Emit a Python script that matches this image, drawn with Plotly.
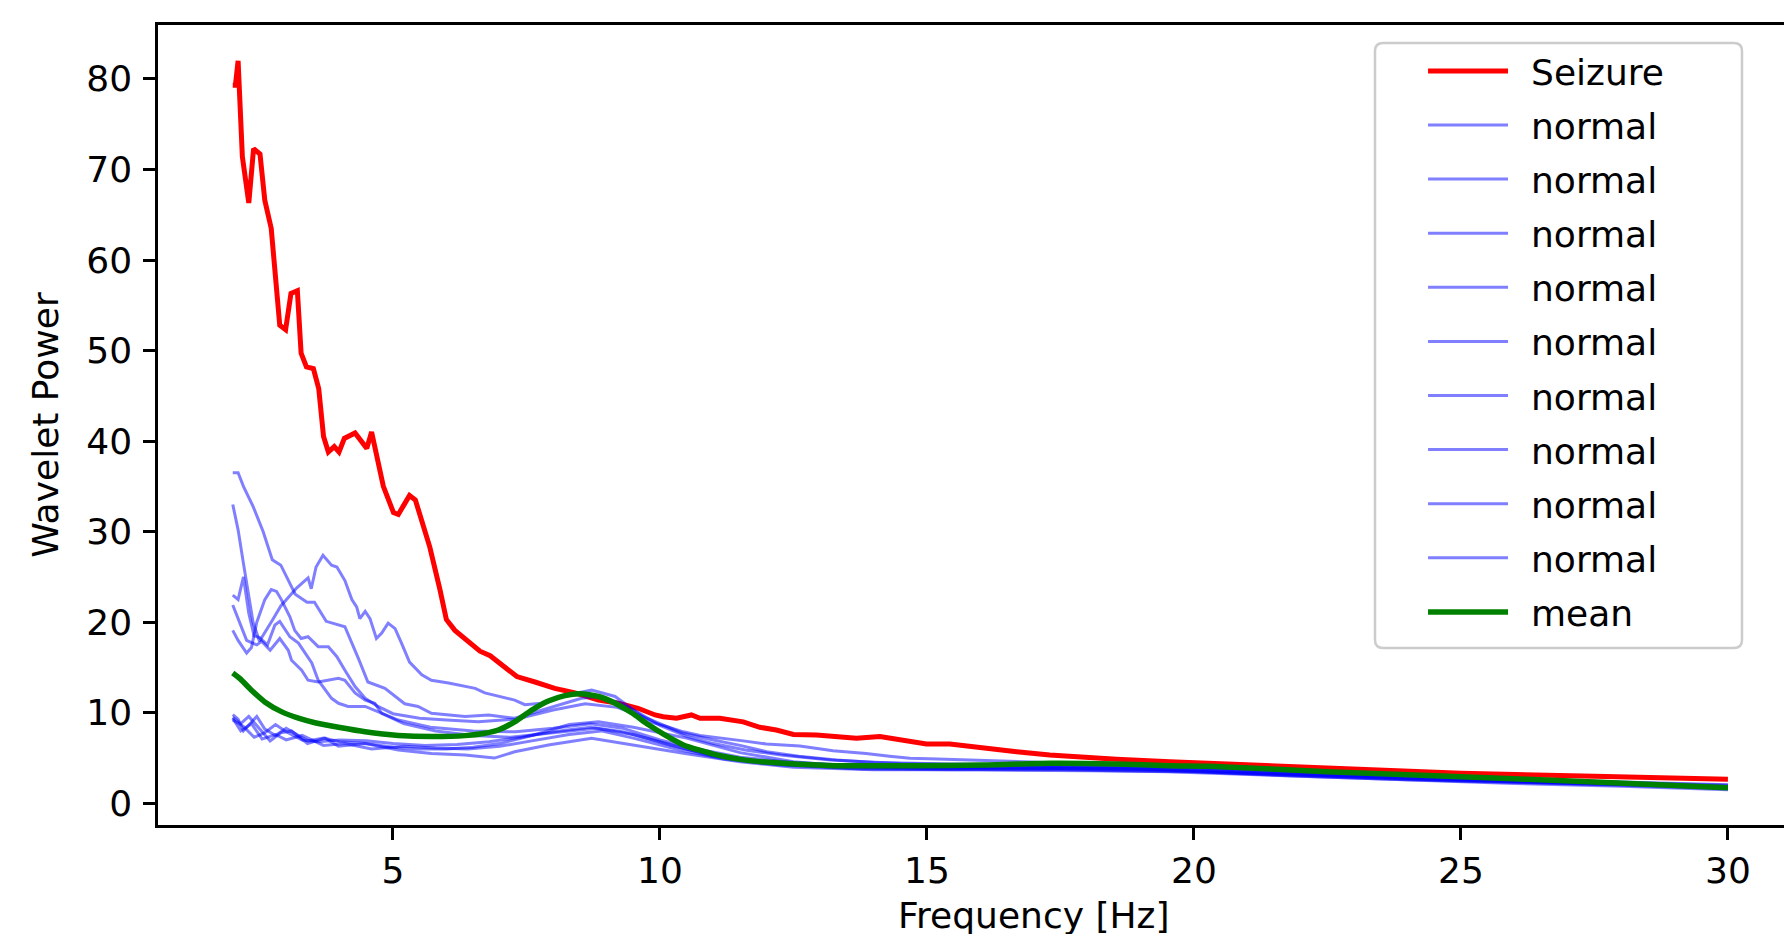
import plotly.graph_objects as go

# ---------------- data ----------------
seizure_f = [2.0, 2.05, 2.10, 2.18, 2.30, 2.39, 2.51, 2.60, 2.72, 2.88, 2.99, 3.09, 3.21, 3.28, 3.38,
             3.51, 3.61, 3.70, 3.79, 3.90, 3.99, 4.09, 4.29, 4.51, 4.60, 4.72, 4.82, 5.01, 5.10, 5.22,
             5.31, 5.42, 5.57, 5.69, 5.88, 6.0, 6.16, 6.38, 6.63, 6.82, 7.04, 7.32, 7.66, 8.03, 8.41,
             8.85, 9.22, 9.59, 9.91, 10.06, 10.31, 10.59, 10.75, 11.12, 11.56, 11.87, 12.18, 12.50,
             12.93, 13.68, 14.12, 14.56, 14.99, 15.43, 15.8, 16.05, 16.68, 17.3, 17.93, 18.55, 19.55,
             20.3, 22.0, 25.0, 27.5, 30.0]
seizure_p = [79.3, 79.3, 82.0, 71.4, 66.3, 72.3, 71.7, 66.6, 63.5, 52.8, 52.3, 56.3, 56.6, 49.7, 48.2,
             48.0, 45.8, 40.5, 38.8, 39.4, 38.8, 40.3, 40.9, 39.2, 41.0, 37.6, 35.0, 32.1, 31.9, 33.1,
             34.0, 33.5, 30.6, 28.3, 23.6, 20.3, 19.1, 18.0, 16.8, 16.3, 15.3, 14.0, 13.4, 12.7, 12.2,
             11.4, 11.05, 10.5, 9.76, 9.57, 9.4, 9.76, 9.4, 9.4, 9.0, 8.4, 8.1, 7.6,
             7.55, 7.2, 7.37, 6.9, 6.56, 6.56, 6.27, 6.08, 5.7, 5.35, 5.09, 4.87, 4.6,
             4.43, 4.0, 3.32, 3.0, 2.66]

normal1_f = [2.0, 2.1, 2.2, 2.38, 2.57, 2.74, 2.9, 3.07, 3.17, 3.39, 3.53, 3.75, 3.96, 4.1, 4.36, 4.53,
             4.85, 5.22, 5.47, 5.72, 6.35, 6.79, 7.28, 7.91, 8.53, 8.85, 9.2, 9.6, 10.0, 10.5, 11.0,
             11.6, 12.3, 13.2, 14.5, 16.0, 18.0, 20.0, 22.0, 24.0, 26.0, 28.0, 30.0]
normal1_p = [36.5, 36.5, 35.0, 32.8, 30.0, 26.9, 26.3, 24.3, 23.1, 22.2, 22.2, 20.1, 19.7, 19.5, 15.9, 13.4,
             12.7, 11.0, 10.7, 9.95, 9.6, 9.75, 9.4, 10.5, 11.6, 11.8, 11.2, 10.0, 8.6, 7.4, 6.6,
             5.9, 5.3, 4.8, 4.4, 4.2, 4.0, 3.8, 3.3, 2.9, 2.5, 2.2, 1.9]

normal2_f = [2.0, 2.1, 2.2, 2.28, 2.38, 2.5, 2.6, 2.75, 2.9, 3.05, 3.2, 3.41, 3.47, 3.56, 3.69, 3.85,
             3.95, 4.1, 4.23, 4.32, 4.38, 4.48, 4.57, 4.69, 4.79, 4.91, 5.04, 5.16, 5.31, 5.54, 5.72,
             6.04, 6.22, 6.54, 6.72, 7.28, 7.47, 7.78, 8.2, 8.72, 9.16, 9.47, 9.81, 10.12, 10.44,
             10.75, 11.06, 11.56, 11.99, 12.62, 13.24, 13.86, 14.3, 14.68, 15.2, 16.0, 17.0, 18.0,
             19.0, 20.0, 22.0, 24.0, 26.0, 28.0, 30.0]
normal2_p = [33.0, 30.2, 26.5, 23.6, 20.0, 17.9, 18.8, 20.3, 21.8, 22.8, 23.8, 24.9, 23.7, 26.1, 27.4, 26.3,
             26.1, 24.6, 22.5, 21.7, 20.4, 21.2, 20.4, 18.2, 18.8, 19.9, 19.3, 17.7, 15.6, 14.2, 13.6,
             13.3, 13.1, 12.7, 12.2, 11.4, 10.9, 11.05, 11.9, 12.5, 11.8, 10.5, 9.0, 8.5, 7.9,
             7.5, 7.3, 6.9, 6.56, 6.34, 5.8, 5.5, 5.2, 4.98, 4.9, 4.75, 4.55, 4.4,
             4.2, 4.0, 3.5, 3.1, 2.7, 2.35, 2.05]

normal3_f = [2.0, 2.1, 2.2, 2.3, 2.4, 2.5, 2.65, 2.79, 2.88, 3.07, 3.23, 3.35, 3.48, 3.6, 3.85, 3.98,
             4.16, 4.48, 4.79, 5.1, 5.7, 6.5, 7.3, 8.0, 8.7, 9.3, 10.0, 10.7, 11.5, 12.5, 14.0,
             16.0, 18.0, 20.0, 22.0, 24.0, 26.0, 28.0, 30.0]
normal3_p = [23.0, 22.5, 25.0, 21.0, 18.5, 18.3, 17.5, 19.7, 20.1, 18.4, 17.7, 16.6, 15.5, 13.6, 11.6, 11.05,
             10.7, 10.7, 9.95, 9.2, 8.4, 8.0, 7.9, 8.3, 8.8, 8.3, 7.0, 6.0, 5.1, 4.5, 4.1,
             4.0, 4.0, 3.7, 3.2, 2.8, 2.4, 2.1, 1.8]

normal4_f = [2.0, 2.26, 2.45, 2.54, 2.70, 2.88, 3.04, 3.1, 3.29, 3.41, 3.6, 3.79, 3.98, 4.1, 4.29, 4.48,
             4.66, 4.79, 5.2, 5.8, 6.5, 7.2, 8.0, 8.8, 9.5, 10.2, 11.0, 12.0, 13.0, 15.0, 17.0, 19.0,
             21.0, 23.0, 25.0, 27.0, 30.0]
normal4_p = [21.9, 18.0, 17.5, 17.9, 16.9, 18.2, 16.9, 15.8, 14.7, 13.6, 13.4, 13.6, 13.8, 13.6, 12.2, 11.4,
             11.05, 9.95, 8.8, 8.0, 7.5, 7.3, 7.8, 8.3, 7.6, 6.4, 5.3, 4.5, 4.1, 3.9, 3.9, 3.8,
             3.4, 3.0, 2.6, 2.3, 1.8]

normal5_f = [2.0, 2.1, 2.26, 2.35, 2.45, 2.6, 2.72, 2.82, 2.91, 3.07, 3.16, 3.28, 3.41, 3.6, 3.79, 3.95,
             4.1, 4.29, 4.48, 4.72, 5.0, 5.5, 6.0, 6.6, 7.3, 8.0, 8.6, 9.2, 9.8, 10.4, 11.0, 11.5,
             12.0, 12.6, 13.3, 14.0, 15.0, 16.0, 18.0, 20.0, 22.0, 24.0, 26.0, 28.0, 30.0]
normal5_p = [19.1, 18.0, 16.6, 17.2, 20.0, 22.5, 23.6, 23.4, 22.5, 20.6, 19.1, 18.2, 18.4, 17.3, 17.3, 16.2,
             14.7, 12.9, 11.6, 10.7, 9.9, 9.4, 9.2, 9.0, 9.3, 10.3, 11.0, 10.6, 9.3, 7.8, 7.0, 6.4,
             5.7, 5.2, 4.8, 4.5, 4.4, 4.3, 4.1, 3.9, 3.4, 3.0, 2.6, 2.3, 2.0]

normal6_f = [2.0, 2.1, 2.2, 2.3, 2.45, 2.6, 2.8, 3.0, 3.2, 3.4, 3.7, 4.0, 4.5, 5.0, 5.5, 6.0, 6.5,
             7.0, 7.6, 8.3, 8.85, 9.5, 10.5, 11.5, 12.5, 13.5, 15.0, 17.0, 19.0, 21.0, 23.0, 25.0,
             27.0, 30.0]
normal6_p = [9.8, 9.3, 8.0, 8.6, 9.6, 8.2, 7.5, 8.3, 7.6, 6.9, 7.2, 6.8, 6.6, 6.2, 6.0, 6.0, 6.2,
             6.6, 7.5, 8.7, 9.0, 8.4, 7.2, 5.6, 4.6, 4.1, 3.9, 3.9, 3.8, 3.3, 2.9, 2.5,
             2.2, 1.8]

normal7_f = [2.0, 2.15, 2.3, 2.5, 2.7, 2.9, 3.1, 3.4, 3.73, 3.98, 4.48, 5.1, 5.72, 6.35, 6.9, 7.28,
             7.91, 8.72, 9.47, 10.47, 11.5, 12.5, 14.0, 16.0, 18.0, 20.0, 22.0, 24.0, 26.0, 28.0, 30.0]
normal7_p = [9.5, 8.8, 9.6, 8.3, 6.9, 7.8, 8.0, 6.6, 7.2, 6.3, 6.6, 5.9, 5.5, 5.35, 5.0, 5.7,
             6.45, 7.2, 6.45, 5.5, 4.6, 4.0, 3.7, 3.7, 3.6, 3.5, 3.0, 2.6, 2.2, 1.9, 1.5]

normal8_f = [2.0, 2.2, 2.4, 2.6, 2.8, 3.0, 3.3, 3.6, 4.0, 4.5, 5.0, 5.6, 6.2, 6.8, 7.4, 8.0, 8.7,
             9.3, 10.0, 11.0, 12.0, 13.5, 15.5, 17.5, 19.5, 22.0, 24.0, 26.0, 28.0, 30.0]
normal8_p = [9.2, 8.5, 7.3, 7.8, 8.7, 7.9, 7.0, 6.8, 7.0, 6.9, 6.6, 6.4, 6.5, 6.8, 7.3, 7.9, 8.4,
             7.9, 6.8, 5.2, 4.4, 3.9, 3.8, 3.8, 3.6, 3.1, 2.7, 2.4, 2.1, 1.7]

normal9_f = [2.0, 2.15, 2.35, 2.55, 2.8, 3.0, 3.3, 3.7, 4.1, 4.6, 5.2, 5.8, 6.4, 7.0, 7.6, 8.3, 8.9,
             9.5, 10.3, 11.2, 12.3, 13.8, 15.5, 17.5, 19.5, 22.0, 24.0, 26.0, 28.0, 30.0]
normal9_p = [9.4, 8.0, 8.8, 7.1, 7.6, 7.0, 7.5, 6.4, 6.6, 6.0, 6.3, 6.1, 6.0, 6.3, 6.9, 7.6, 8.0,
             7.2, 6.0, 4.9, 4.2, 3.8, 3.7, 3.7, 3.5, 3.0, 2.6, 2.3, 2.0, 1.6]

mean_f = [2.0, 2.13, 2.35, 2.6, 2.92, 3.23, 3.54, 3.98, 4.48, 5.1, 5.72, 6.35, 6.72, 6.97, 7.28, 7.6,
          7.91, 8.22, 8.5, 8.85, 9.16, 9.47, 9.78, 10.09, 10.44, 11.06, 11.68, 12.31, 13.24, 14.8,
          16.05, 17.3, 18.55, 19.55, 20.3, 22.5, 25.0, 27.5, 30.0]
mean_p = [14.4, 13.8, 12.5, 11.2, 10.1, 9.4, 8.9, 8.4, 7.9, 7.5, 7.37, 7.48, 7.74, 8.1, 9.0, 10.3,
          11.3, 11.9, 12.1, 11.8, 11.05, 10.0, 8.7, 7.55, 6.45, 5.35, 4.72, 4.43, 4.16, 4.16,
          4.24, 4.43, 4.35, 4.16, 4.1, 3.5, 2.95, 2.35, 1.73]

normal_series = [
    (normal1_f, normal1_p), (normal2_f, normal2_p), (normal3_f, normal3_p),
    (normal4_f, normal4_p), (normal5_f, normal5_p), (normal6_f, normal6_p),
    (normal7_f, normal7_p), (normal8_f, normal8_p), (normal9_f, normal9_p),
]

x_ticks = [5, 10, 15, 20, 25, 30]
y_ticks = [0, 10, 20, 30, 40, 50, 60, 70, 80]

# ---------------- figure ----------------
FONT = "DejaVu Sans"
GAP = "\u2002"  # matplotlib-like gap between legend handle and label
fig = go.Figure()

fig.add_trace(go.Scatter(x=seizure_f, y=seizure_p, mode="lines", name=GAP + "Seizure",
                         legendgroup="g0", line=dict(color="#ff0000", width=5)))
for i, (f, p) in enumerate(normal_series):
    fig.add_trace(go.Scatter(x=f, y=p, mode="lines", name=GAP + "normal", legendgroup=f"g{i+1}",
                             line=dict(color="rgba(0,0,255,0.5)", width=3)))
fig.add_trace(go.Scatter(x=mean_f, y=mean_p, mode="lines", name=GAP + "mean", legendgroup="g10",
                         line=dict(color="#008000", width=5.5, shape="spline", smoothing=0.6)))

# legend frame (rounded rectangle, paper coordinates of the plot area)
x0, x1, y0, y1 = 0.7448, 0.9694, 0.2213, 0.9775
rx, ry = 0.005, 0.010
frame_path = (f"M{x0+rx},{y0} L{x1-rx},{y0} Q{x1},{y0} {x1},{y0+ry} L{x1},{y1-ry} "
              f"Q{x1},{y1} {x1-rx},{y1} L{x0+rx},{y1} Q{x0},{y1} {x0},{y1-ry} "
              f"L{x0},{y0+ry} Q{x0},{y0} {x0+rx},{y0} Z")

fig.update_layout(
    width=1784, height=926,
    margin=dict(l=150, r=0, t=17, b=109),
    paper_bgcolor="white", plot_bgcolor="white",
    font=dict(family=FONT, size=36, color="black"),
    showlegend=True,
    shapes=[dict(type="path", path=frame_path, xref="paper", yref="paper",
                 fillcolor="rgba(255,255,255,0.8)", line=dict(color="#cccccc", width=2.5),
                 layer="above")],
    legend=dict(
        x=0.7742, xanchor="left", y=0.9800, yanchor="top",
        bgcolor="rgba(0,0,0,0)", borderwidth=0,
        font=dict(family=FONT, size=36, color="black"),
        traceorder="grouped", tracegroupgap=4.3, itemwidth=80,
    ),
    xaxis=dict(
        range=[0.6, 31.2], tickvals=x_ticks, ticktext=[str(v) for v in x_ticks],
        showgrid=False, zeroline=False, showline=True, linecolor="black", linewidth=2.5,
        mirror=True, ticks="outside", ticklen=12, tickwidth=2.5, tickcolor="black",
        tickfont=dict(family=FONT, size=36, color="black"), ticklabelstandoff=0,
    ),
    yaxis=dict(
        range=[-2.39, 85.95], tickvals=y_ticks, ticktext=[str(v) for v in y_ticks],
        showgrid=False, zeroline=False, showline=True, linecolor="black", linewidth=2.5,
        ticks="outside", ticklen=12, tickwidth=2.5, tickcolor="black",
        tickfont=dict(family=FONT, size=36, color="black"), ticklabelstandoff=4,
        title=dict(text="Wavelet Power", font=dict(family=FONT, size=36, color="black"), standoff=17),
    ),
    annotations=[dict(
        text="Frequency [Hz]", xref="paper", yref="paper", x=0.536, y=-0.113,
        xanchor="center", yanchor="middle", showarrow=False,
        font=dict(family=FONT, size=36, color="black"),
    )],
)

fig.write_html("out.html")
